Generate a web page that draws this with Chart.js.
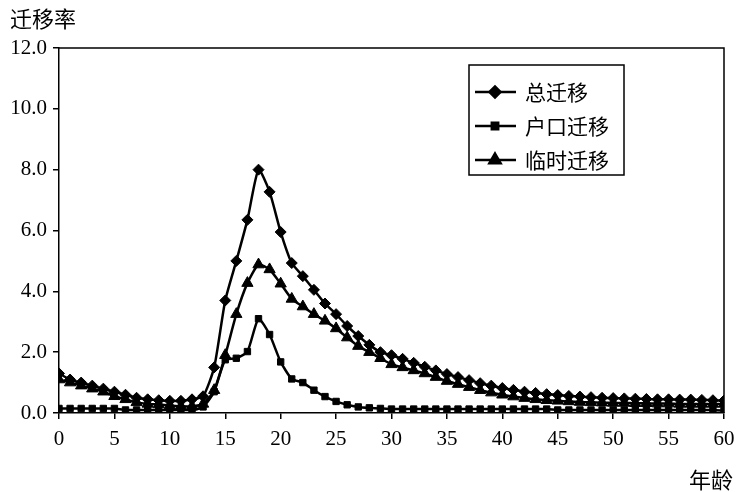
<!DOCTYPE html>
<html>
<head>
<meta charset="utf-8">
<script src="https://cdn.jsdelivr.net/npm/chart.js@4.4.1/dist/chart.umd.min.js"></script>
<style>
  html, body { margin: 0; padding: 0; background: #fff; }
  #wrap { width: 746px; height: 492px; }
</style>
</head>
<body>
<div id="wrap"><canvas id="chart" width="746" height="492"></canvas></div>
<script>
// ages 0..60
const ages = [];
for (let a = 0; a <= 60; a++) ages.push(a);

const seriesNames = ['总迁移', '户口迁移', '临时迁移'];

const totalRate = [
  1.3, 1.1, 1.0, 0.9, 0.8, 0.7, 0.6, 0.5, 0.45, 0.42,
  0.4, 0.4, 0.45, 0.55, 1.5, 3.7, 5.0, 6.35, 8.0, 7.27,
  5.95, 4.93, 4.5, 4.05, 3.6, 3.25, 2.86, 2.53, 2.24, 2.0,
  1.9, 1.78, 1.65, 1.52, 1.4, 1.28, 1.18, 1.08, 0.98, 0.9,
  0.82, 0.76, 0.7, 0.66, 0.62, 0.59, 0.56, 0.54, 0.52, 0.5,
  0.49, 0.48, 0.47, 0.46, 0.45, 0.45, 0.44, 0.44, 0.43, 0.42, 0.41
];

const hukouRate = [
  0.15, 0.15, 0.15, 0.15, 0.15, 0.15, 0.1, 0.1, 0.1, 0.1,
  0.1, 0.1, 0.1, 0.2, 0.7, 1.75, 1.8, 2.02, 3.1, 2.58,
  1.68, 1.12, 1.0, 0.75, 0.54, 0.38, 0.27, 0.2, 0.17, 0.15,
  0.13, 0.13, 0.13, 0.13, 0.13, 0.13, 0.13, 0.13, 0.13, 0.13,
  0.13, 0.13, 0.13, 0.13, 0.13, 0.1, 0.1, 0.1, 0.1, 0.1,
  0.1, 0.1, 0.1, 0.1, 0.1, 0.1, 0.1, 0.1, 0.1, 0.1, 0.08
];

const tempRate = [
  1.1, 1.0, 0.9, 0.8, 0.7, 0.55, 0.45, 0.35, 0.3, 0.28,
  0.25, 0.22, 0.22, 0.3, 0.75, 1.9, 3.25, 4.27, 4.88, 4.72,
  4.25, 3.75, 3.5, 3.25, 3.03, 2.78, 2.48, 2.2, 2.0, 1.8,
  1.6, 1.5, 1.4, 1.3, 1.18, 1.05, 0.95, 0.85, 0.75, 0.67,
  0.6, 0.54, 0.49, 0.45, 0.42, 0.4, 0.38, 0.36, 0.35, 0.34,
  0.33, 0.33, 0.32, 0.32, 0.31, 0.31, 0.3, 0.3, 0.3, 0.3, 0.3
];

const yTicks = [0, 2, 4, 6, 8, 10, 12];

const serif = '"Liberation Serif", "DejaVu Serif", serif';
const cjk = '"Noto Sans CJK SC", "Noto Sans", sans-serif';

function points(vals) {
  return ages.map((a, i) => ({ x: a, y: vals[i] }));
}

// frame, axis titles and the boxed legend
const decor = {
  id: 'decor',
  afterDraw(chart) {
    const ctx = chart.ctx;
    const a = chart.chartArea;
    ctx.save();
    ctx.strokeStyle = '#000';
    ctx.lineWidth = 1.5;
    ctx.beginPath();
    ctx.moveTo(a.left, a.top);
    ctx.lineTo(a.right, a.top);
    ctx.lineTo(a.right, a.bottom);
    ctx.stroke();

    ctx.fillStyle = '#000';
    ctx.font = '22px ' + cjk;
    ctx.textBaseline = 'middle';
    ctx.textAlign = 'left';
    ctx.fillText('迁移率', 10, 19);
    ctx.fillText('年龄', 689, 480);

    // legend box
    const bx = 469, by = 65, bw = 155, bh = 110;
    ctx.fillStyle = '#fff';
    ctx.fillRect(bx, by, bw, bh);
    ctx.lineWidth = 1.5;
    ctx.strokeRect(bx, by, bw, bh);
    chart.data.datasets.forEach((ds, i) => {
      const y = by + 27 + i * 34;
      ctx.strokeStyle = '#000';
      ctx.lineWidth = 2.5;
      ctx.beginPath();
      ctx.moveTo(bx + 6, y);
      ctx.lineTo(bx + 47, y);
      ctx.stroke();
      ctx.fillStyle = '#000';
      Chart.helpers.drawPoint(ctx, {
        pointStyle: ds.pointStyle,
        radius: ds.pointRadius,
        borderWidth: 1
      }, bx + 26, y);
      ctx.fillStyle = '#000';
      ctx.font = '21px ' + cjk;
      ctx.textAlign = 'left';
      ctx.textBaseline = 'middle';
      ctx.fillText(ds.label, bx + 56, y);
    });
    ctx.restore();
  }
};

function makeSet(label, vals, style, r) {
  return {
    label: label,
    data: points(vals),
    borderColor: '#000',
    backgroundColor: '#000',
    borderWidth: 2.5,
    pointStyle: style,
    pointRadius: r,
    pointBorderWidth: 1,
    pointBackgroundColor: '#000',
    pointBorderColor: '#000',
    tension: 0.2,
    fill: false
  };
}

new Chart(document.getElementById('chart').getContext('2d'), {
  type: 'line',
  data: {
    datasets: [
      makeSet(seriesNames[0], totalRate, 'rectRot', 5.5),
      makeSet(seriesNames[1], hukouRate, 'rect', 4.5),
      makeSet(seriesNames[2], tempRate, 'triangle', 6.5)
    ]
  },
  options: {
    responsive: false,
    animation: false,
    layout: { padding: { top: 48, right: 22, left: 0, bottom: 0 } },
    plugins: {
      legend: { display: false },
      tooltip: { enabled: false }
    },
    scales: {
      x: {
        type: 'linear',
        min: 0,
        max: 60,
        afterFit(scale) { scale.height = 79; },
        border: { color: '#000', width: 1.5 },
        grid: { drawOnChartArea: false, drawTicks: true, tickLength: 6, color: '#000', lineWidth: 1.5 },
        ticks: {
          stepSize: 5,
          color: '#000',
          padding: 8,
          maxRotation: 0,
          font: { family: serif, size: 21 }
        }
      },
      y: {
        min: 0,
        max: 12,
        afterFit(scale) { scale.width = 59; },
        afterBuildTicks(scale) { scale.ticks = yTicks.map(v => ({ value: v })); },
        border: { color: '#000', width: 1.5 },
        grid: { drawOnChartArea: false, drawTicks: true, tickLength: 6, color: '#000', lineWidth: 1.5 },
        ticks: {
          color: '#000',
          padding: 6,
          font: { family: serif, size: 21 },
          callback: v => v.toFixed(1)
        }
      }
    }
  },
  plugins: [decor]
});
</script>
</body>
</html>
